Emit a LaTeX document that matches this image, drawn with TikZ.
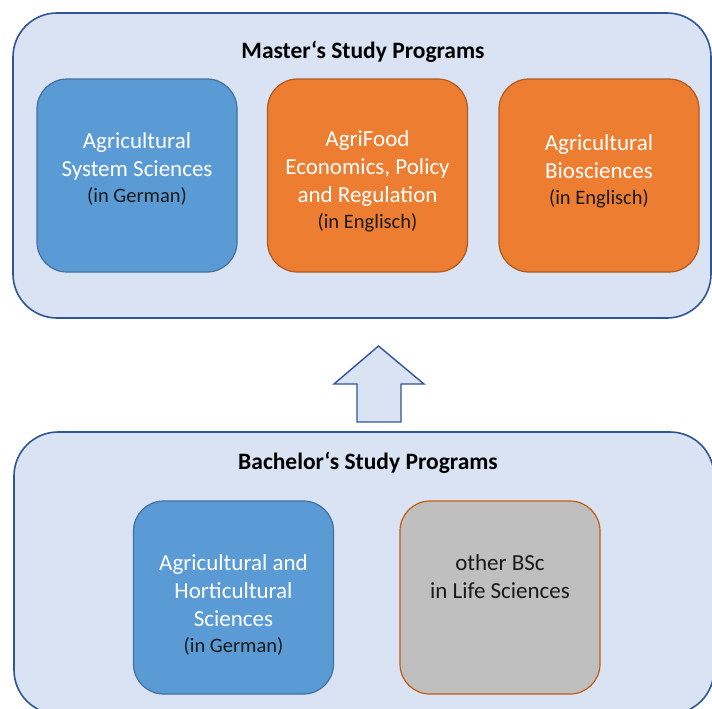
\documentclass[tikz,border=0pt]{standalone}
\usepackage{fontspec}
\setmainfont{Carlito}
\definecolor{outerfill}{HTML}{DAE3F3}
\definecolor{outerline}{HTML}{2F5597}
\definecolor{bluefill}{HTML}{5B9BD5}
\definecolor{blueline}{HTML}{41719C}
\definecolor{orangefill}{HTML}{ED7D31}
\definecolor{orangeline}{HTML}{AE5A21}
\definecolor{grayfill}{HTML}{BFBFBF}
\definecolor{grayline}{HTML}{C55A11}
\definecolor{darktext}{HTML}{1A1A1A}
\newcommand{\subline}[1]{{\color{darktext}\fontsize{20.5}{26}\selectfont #1}}
\begin{document}
\begin{tikzpicture}[x=1pt,y=-1pt,
  outerbox/.style={draw=outerline,fill=outerfill,line width=1.6pt,rounded corners=44pt,inner sep=0pt},
  progbox/.style={line width=1.2pt,rounded corners=30pt,minimum width=200pt,minimum height=193pt,inner sep=0pt},
  bluebox/.style={progbox,draw=blueline,fill=bluefill},
  orangebox/.style={progbox,draw=orangeline,fill=orangefill},
  graybox/.style={progbox,draw=grayline,fill=grayfill},
  maintext/.style={align=center,text=white,font=\fontsize{23}{28}\selectfont,inner sep=0pt,anchor=base},
  titletext/.style={font=\bfseries\fontsize{23.5}{28}\selectfont,inner sep=0pt}
]
\useasboundingbox (0,0) rectangle (712,709);
% outer boxes
\node[outerbox,minimum width=698pt,minimum height=305pt] (master) at (362,165.5) {};
\node[outerbox,minimum width=700pt,minimum height=282pt] (bachelor) at (364,573) {};
% titles
\node[titletext] (mtitle) at (363,52) {Master‘s Study Programs};
\node[titletext] (btitle) at (368,463) {Bachelor‘s Study Programs};
% master programs
\node[bluebox] (m1) at (137,175.5) {};
\node[orangebox] (m2) at (367.5,175.5) {};
\node[orangebox] (m3) at (599,175.5) {};
% bachelor programs
\node[bluebox] (b1) at (233.5,597.5) {};
\node[graybox] (b2) at (500,597.5) {};
% texts
\node[maintext] (t1) at (137,202) {Agricultural\\System Sciences\\[-2pt]\subline{(in German)}};
\node[maintext] (t2) at (367.5,228) {AgriFood\\Economics, Policy\\and Regulation\\[-2pt]\subline{(in Englisch)}};
\node[maintext] (t3) at (599,204) {Agricultural\\Biosciences\\[-2pt]\subline{(in Englisch)}};
\node[maintext] (t4) at (233.5,652) {Agricultural and\\Horticultural\\Sciences\\[-2pt]\subline{(in German)}};
\node[maintext,text=darktext] (t5) at (500,598) {other BSc\\in Life Sciences};
% block arrow
\coordinate (tip) at (378.5,346);
\draw[draw=outerline,fill=outerfill,line width=1.4pt,line join=miter]
  (tip) -- (424,384) -- (401,384) -- (401,422) -- (357,422) -- (357,384) -- (334,384) -- cycle;
\end{tikzpicture}
\end{document}
